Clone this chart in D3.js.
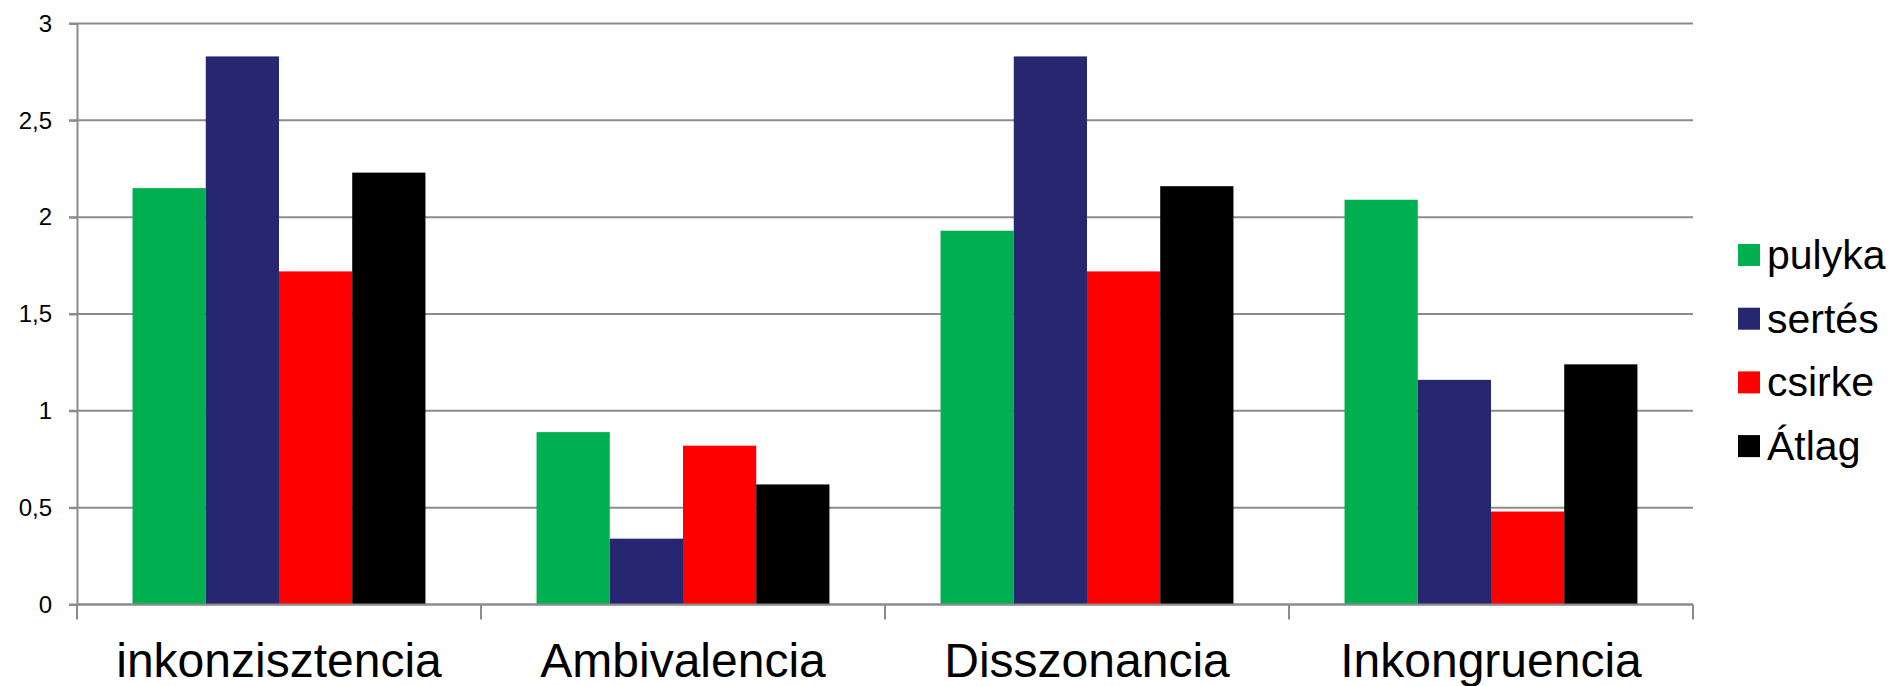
<!DOCTYPE html>
<html>
<head>
<meta charset="utf-8">
<script src="https://cdn.jsdelivr.net/npm/d3@7"></script>
<style>
  body { margin: 0; background: #fff; }
  text { font-family: "Liberation Sans", Arial, sans-serif; fill: #000; }
</style>
</head>
<body>
<div id="chart"></div>
<script>
// data
const categories = ["inkonzisztencia", "Ambivalencia", "Disszonancia", "Inkongruencia"];
const seriesNames = ["pulyka", "sertés", "csirke", "Átlag"];
const pulyka = [2.15, 0.89, 1.93, 2.09];
const sertes = [2.83, 0.34, 2.83, 1.16];
const csirke = [1.72, 0.82, 1.72, 0.48];
const atlag = [2.23, 0.62, 2.16, 1.24];
const yTicks = [0, 0.5, 1, 1.5, 2, 2.5, 3];

const seriesValues = [pulyka, sertes, csirke, atlag];
const colors = ["#00b050", "#272771", "#ff0000", "#000000"];

const W = 1899, H = 686;
const plotLeft = 77, plotRight = 1693, plotTop = 23.5, plotBottom = 604.5;

const svg = d3.select("#chart").append("svg")
    .attr("width", W)
    .attr("height", H);

const y = d3.scaleLinear().domain([0, 3]).range([plotBottom, plotTop]);

const x0 = d3.scaleBand()
    .domain(categories)
    .range([plotLeft, plotRight])
    .paddingInner(0.275)
    .paddingOuter(0.1375);

const x1 = d3.scaleBand()
    .domain(seriesNames)
    .range([0, x0.bandwidth()]);

// gridlines
svg.append("g")
    .selectAll("line")
    .data(yTicks)
    .enter()
    .append("line")
    .attr("x1", plotLeft - 8)
    .attr("x2", plotRight)
    .attr("y1", d => y(d))
    .attr("y2", d => y(d))
    .attr("stroke", "#8c8c8c")
    .attr("stroke-width", 2);

// y axis
const yAxis = svg.append("g")
    .attr("transform", `translate(${plotLeft},0)`)
    .call(d3.axisLeft(y)
        .tickValues(yTicks)
        .tickSize(8)
        .tickPadding(17)
        .tickFormat(d => String(d).replace(".", ",")));
yAxis.select(".domain").attr("stroke", "#8c8c8c").attr("stroke-width", 2);
yAxis.selectAll(".tick line").attr("stroke", "#8c8c8c").attr("stroke-width", 2);
yAxis.selectAll(".tick text")
    .attr("font-size", 24)
    .attr("fill", "#000");

// bars
const groups = svg.append("g")
    .selectAll("g")
    .data(categories)
    .enter()
    .append("g")
    .attr("transform", d => `translate(${x0(d)},0)`);

groups.selectAll("rect")
    .data((c, ci) => seriesNames.map((s, si) => ({ s, si, v: seriesValues[si][ci] })))
    .enter()
    .append("rect")
    .attr("x", d => x1(d.s))
    .attr("width", x1.bandwidth())
    .attr("y", d => y(d.v))
    .attr("height", d => y(0) - y(d.v))
    .attr("fill", d => colors[d.si]);

// x axis line and category separators
const step = (plotRight - plotLeft) / categories.length;
const xAxis = svg.append("g");
xAxis.append("line")
    .attr("x1", plotLeft).attr("x2", plotRight)
    .attr("y1", plotBottom).attr("y2", plotBottom)
    .attr("stroke", "#8c8c8c").attr("stroke-width", 2);
xAxis.selectAll(".sep")
    .data(d3.range(categories.length + 1))
    .enter()
    .append("line")
    .attr("x1", i => plotLeft + i * step)
    .attr("x2", i => plotLeft + i * step)
    .attr("y1", plotBottom)
    .attr("y2", plotBottom + 15)
    .attr("stroke", "#8c8c8c").attr("stroke-width", 2);

xAxis.selectAll("text")
    .data(categories)
    .enter()
    .append("text")
    .attr("x", d => x0(d) + x0.bandwidth() / 2)
    .attr("y", 677)
    .attr("text-anchor", "middle")
    .attr("font-size", 48)
    .text(d => d);

// legend
const legend = svg.append("g")
    .attr("transform", "translate(1738,244)");
const items = legend.selectAll("g")
    .data(seriesNames)
    .enter()
    .append("g")
    .attr("transform", (d, i) => `translate(0,${i * 63.7})`);
items.append("rect")
    .attr("width", 22)
    .attr("height", 22)
    .attr("fill", (d, i) => colors[i]);
items.append("text")
    .attr("x", 29)
    .attr("y", 25)
    .attr("font-size", 41)
    .text(d => d);
</script>
</body>
</html>
